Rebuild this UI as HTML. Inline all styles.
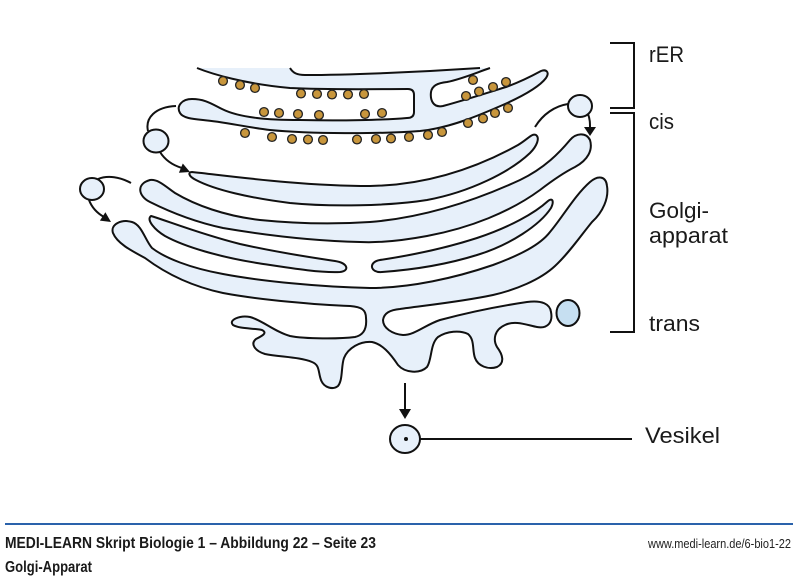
<!DOCTYPE html>
<html>
<head>
<meta charset="utf-8">
<style>
html,body{margin:0;padding:0;background:#fff;}
svg{display:block;}
text{font-family:"Liberation Sans", Arial, sans-serif;}
</style>
</head>
<body>
<svg width="800" height="577" viewBox="0 0 800 577" xmlns="http://www.w3.org/2000/svg">
<rect width="800" height="577" fill="#fff"/>

<!-- rER -->
<path d="M197,68 C212,74 245,84 290,88 C330,90 380,89 408,89 Q414,89 414,95 L414,112 Q414,118 407,118 C385,120 340,121 300,120 C280,120 265,119 257,118 C240,116 230,113 222,109 C212,104 205,99 192,99 C182,99 176,106 180,113 C183,118 192,119 203,120 C225,122 245,127 270,130 C310,134 380,134 420,131 C450,128 480,115 505,104 C525,95 540,86 546,78 C550,72 546,69 541,71 C530,77 520,82 506,87 C490,92 465,100 443,106 C433,108 430,100 431,92 C432,86 437,83 447,82 C462,79 478,72 490,68 L480,68 C420,72 350,75 305,75 C297,75 293,73 290,68 Z" fill="#e7f0fa" stroke="none"/>
<path d="M197,68 C212,74 245,84 290,88 C330,90 380,89 408,89 Q414,89 414,95 L414,112 Q414,118 407,118 C385,120 340,121 300,120 C280,120 265,119 257,118 C240,116 230,113 222,109 C212,104 205,99 192,99 C182,99 176,106 180,113 C183,118 192,119 203,120 C225,122 245,127 270,130 C310,134 380,134 420,131 C450,128 480,115 505,104 C525,95 540,86 546,78 C550,72 546,69 541,71 C530,77 520,82 506,87 C490,92 465,100 443,106 C433,108 430,100 431,92 C432,86 437,83 447,82 C462,79 478,72 490,68" fill="none" stroke="#111" stroke-width="2" stroke-linejoin="round"/>
<path d="M290,68 C293,73 297,75 305,75 C350,75 420,72 480,68" fill="none" stroke="#111" stroke-width="2"/>

<!-- ribosomes -->
<g fill="#c8963c" stroke="#222" stroke-width="1.3">
<circle cx="223" cy="81" r="4.4"/><circle cx="240" cy="85" r="4.4"/><circle cx="255" cy="88" r="4.4"/>
<circle cx="301" cy="93.5" r="4.4"/><circle cx="317" cy="94" r="4.4"/><circle cx="332" cy="94.5" r="4.4"/><circle cx="348" cy="94.5" r="4.4"/><circle cx="364" cy="94" r="4.4"/>
<circle cx="264" cy="112" r="4.4"/><circle cx="279" cy="113" r="4.4"/><circle cx="298" cy="114" r="4.4"/><circle cx="319" cy="115" r="4.4"/><circle cx="365" cy="114" r="4.4"/><circle cx="382" cy="113" r="4.4"/>
<circle cx="245" cy="133" r="4.4"/><circle cx="272" cy="137" r="4.4"/><circle cx="292" cy="139" r="4.4"/><circle cx="308" cy="139.5" r="4.4"/><circle cx="323" cy="140" r="4.4"/><circle cx="357" cy="139.5" r="4.4"/><circle cx="376" cy="139" r="4.4"/><circle cx="391" cy="138.5" r="4.4"/><circle cx="409" cy="137" r="4.4"/><circle cx="428" cy="135" r="4.4"/><circle cx="442" cy="132" r="4.4"/><circle cx="468" cy="123" r="4.4"/><circle cx="483" cy="118.5" r="4.4"/><circle cx="495" cy="113" r="4.4"/><circle cx="508" cy="108" r="4.4"/>
<circle cx="473" cy="80" r="4.4"/><circle cx="466" cy="96" r="4.4"/><circle cx="479" cy="91.5" r="4.4"/><circle cx="493" cy="87" r="4.4"/><circle cx="506" cy="82" r="4.4"/>
</g>

<!-- Golgi cisternae -->
<g fill="#e7f0fa" stroke="#111" stroke-width="2" stroke-linejoin="round">
<path d="M192,172 C230,176 300,186 370,186 C430,185 480,166 518,145 C528,139 532,133 536,135 C540,138 537,146 530,153 C510,172 470,192 427,200 C390,206 330,207 290,203 C250,198 215,190 196,180 C188,176 188,172 192,172 Z"/>
<path d="M150,180 C158,179 165,186 175,193 C195,205 225,216 260,220 C300,224 340,224 370,222 C420,218 470,203 520,180 C545,168 560,152 570,140 C576,133 586,132 590,140 C593,150 588,160 575,167 C565,172 553,180 540,190 C510,212 470,228 427,236 C400,241 380,243 360,242 C320,241 270,236 223,228 C195,222 170,212 150,202 C138,196 136,184 150,180 Z"/>
<path d="M151,216 C165,220 200,234 240,244 C280,253 315,258 335,261 C348,263 350,271 340,272 C320,273 290,268 257,263 C220,257 185,247 165,236 C155,230 146,220 151,216 Z"/>
<path d="M380,260 C400,257 440,250 477,238 C510,227 535,213 548,201 C553,197 554,202 551,208 C540,225 510,245 477,255 C445,265 410,270 382,272 C370,273 368,262 380,260 Z"/>
<path d="M113,233 C110,224 122,219 132,222 C142,225 145,240 152,248 C165,258 190,268 223,274 C260,281 320,287 370,288 C410,288 455,278 493,265 C520,255 540,245 550,232 C562,218 575,195 590,182 C598,175 606,176 607,186 C609,198 603,212 592,222 C582,234 570,252 555,266 C540,280 515,290 493,295 C460,302 420,306 400,309 C390,310 384,313 383,320 C383,328 392,334 403,335 C415,335 425,325 440,320 C470,312 500,306 527,302 C542,300 550,304 551,312 C553,322 548,329 537,327 C527,325 515,320 505,325 C494,330 493,340 497,347 C503,355 505,363 497,367 C488,370 478,366 475,358 C472,350 475,340 468,334 C460,330 447,331 438,337 C430,344 432,360 427,367 C420,374 405,373 398,365 C390,353 382,344 372,342 C360,341 348,348 344,358 C341,366 343,380 338,386 C333,390 324,388 321,380 C318,372 320,365 312,362 C300,357 280,357 265,354 C255,351 250,344 256,339 C262,336 268,333 262,330 C252,328 240,329 233,325 C228,320 240,315 250,317 C262,320 275,332 290,336 C305,339 340,339 355,337 C364,335 367,328 366,318 C366,310 362,307 350,306 C320,305 260,300 223,293 C190,286 165,273 145,258 C130,250 117,243 113,233 Z"/>
</g>

<!-- small dark vesicle -->
<ellipse cx="568" cy="313" rx="11.5" ry="13" fill="#c6dff1" stroke="#111" stroke-width="2"/>

<!-- transport vesicles & arrows -->
<g stroke="#111" stroke-width="2" fill="none">
<path d="M148,131 C145,118 155,107 176,106"/>
<path d="M160,152 C165,160 172,165 182,168"/>
<path d="M98,179 C108,175 120,177 131,183"/>
<path d="M89,200 C92,208 97,213 104,217"/>
<path d="M568,104 C555,106 543,114 535,127"/>
<path d="M588,114 C590,119 590,123 590,128"/>
<line x1="405" y1="383" x2="405" y2="410"/>
<line x1="420" y1="439" x2="632" y2="439"/>
</g>
<g fill="#e7f0fa" stroke="#111" stroke-width="2">
<ellipse cx="156" cy="141" rx="12.5" ry="11.5"/>
<ellipse cx="92" cy="189" rx="12" ry="11"/>
<ellipse cx="580" cy="106" rx="12" ry="11"/>
<ellipse cx="405" cy="439" rx="15" ry="14"/>
</g>
<circle cx="406" cy="439" r="2" fill="#111"/>
<g fill="#111">
<polygon points="190,172 178.9,172.7 182.8,163.5"/>
<polygon points="111,222 99.9,220.6 105.4,212.3"/>
<polygon points="584,127 596,127 590,136"/>
<polygon points="399,409 411,409 405,419"/>
</g>

<!-- brackets -->
<g stroke="#111" stroke-width="2" fill="none">
<path d="M610,43 L634,43 L634,108 L610,108"/>
<path d="M610,113 L634,113 L634,332 L610,332"/>
</g>

<!-- labels -->
<g fill="#1a1a1a" font-size="22">
<text x="649" y="62" textLength="35" lengthAdjust="spacingAndGlyphs">rER</text>
<text x="649" y="129" textLength="25" lengthAdjust="spacingAndGlyphs">cis</text>
<text x="649" y="218" textLength="60" lengthAdjust="spacingAndGlyphs">Golgi-</text>
<text x="649" y="243" textLength="79" lengthAdjust="spacingAndGlyphs">apparat</text>
<text x="649" y="331" textLength="51" lengthAdjust="spacingAndGlyphs">trans</text>
<text x="645" y="443" textLength="75" lengthAdjust="spacingAndGlyphs">Vesikel</text>
</g>

<!-- footer -->
<line x1="5" y1="524" x2="793" y2="524" stroke="#2a62ab" stroke-width="2"/>
<text x="5" y="548" font-size="15.5" font-weight="bold" fill="#1a1a1a" textLength="371" lengthAdjust="spacingAndGlyphs">MEDI-LEARN Skript Biologie 1 – Abbildung 22 – Seite 23</text>
<text x="5" y="572" font-size="15.5" font-weight="bold" fill="#1a1a1a" textLength="87" lengthAdjust="spacingAndGlyphs">Golgi-Apparat</text>
<text x="648" y="548" font-size="13" fill="#222" textLength="143" lengthAdjust="spacingAndGlyphs">www.medi-learn.de/6-bio1-22</text>
</svg>
</body>
</html>
